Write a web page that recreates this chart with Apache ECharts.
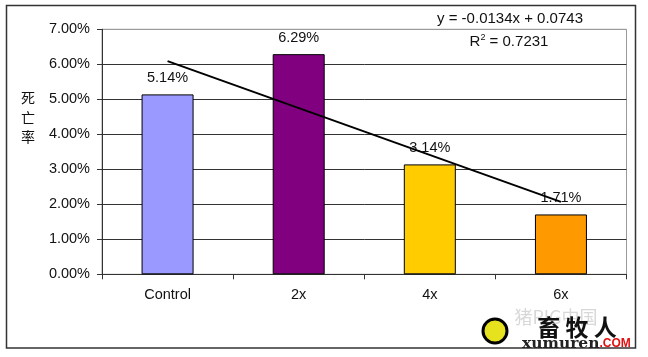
<!DOCTYPE html>
<html>
<head>
<meta charset="utf-8">
<script src="https://cdn.jsdelivr.net/npm/echarts@6/dist/echarts.min.js"></script>
<style>
html,body{margin:0;padding:0;background:#fff;}
#chart{width:648px;height:357px;}
</style>
</head>
<body>
<div id="chart"></div>
<script>
const categories = ['Control', '2x', '4x', '6x'];
const mortality = [0.0514, 0.0629, 0.0314, 0.0171];
const barColors = ['#9999FF', '#800080', '#FFCC00', '#FF9900'];
const trendValues = [0.0609, null, null, 0.0207];
const yTickMax = 0.07;
const yTickStep = 0.01;
const yAxisTitle = '死\n亡\n率';
const equationText = 'y = -0.0134x + 0.0743';
const r2Value = '0.7231';

const FONT = "'Liberation Sans', Arial, sans-serif";
const pct = v => (v * 100).toFixed(2) + '%';

const chart = echarts.init(document.getElementById('chart'), null, {renderer: 'canvas'});
chart.setOption({
  animation: false,
  backgroundColor: '#fff',
  grid: {
    left: 102, right: 21.5, top: 29.3, bottom: 82.7,
    show: true, borderColor: '#9a9a9a', borderWidth: 1, backgroundColor: 'transparent'
  },
  xAxis: {
    type: 'category',
    data: categories,
    boundaryGap: true,
    axisLine: {lineStyle: {color: '#333', width: 1}},
    axisTick: {show: true, length: 5, alignWithLabel: false, lineStyle: {color: '#333'}},
    axisLabel: {margin: 13, fontSize: 14.5, color: '#111', fontFamily: FONT}
  },
  yAxis: {
    type: 'value',
    min: 0, max: yTickMax, interval: yTickStep,
    axisLine: {show: true, lineStyle: {color: '#333', width: 1}},
    axisTick: {show: true, length: 5, lineStyle: {color: '#333'}},
    axisLabel: {margin: 12, fontSize: 14.5, color: '#111', fontFamily: FONT, formatter: pct},
    splitLine: {show: true, lineStyle: {color: ['#333','#333','#333','#333','#333','#333','#333','#9a9a9a'], width: 1}}
  },
  series: [
    {
      type: 'bar',
      data: mortality.map((v, i) => ({value: v, itemStyle: {color: barColors[i]}})),
      barWidth: 52,
      itemStyle: {borderColor: '#000', borderWidth: 1},
      label: {
        show: true, position: 'top', distance: 9,
        fontSize: 14.5, color: '#111', fontFamily: FONT,
        formatter: p => pct(p.value)
      },
      z: 2
    },
    {
      type: 'line',
      data: trendValues,
      connectNulls: true,
      symbol: 'none',
      lineStyle: {color: '#000', width: 2},
      z: 3
    }
  ],
  graphic: [
    {
      type: 'rect', silent: true,
      shape: {x: 6.5, y: 5.5, width: 629, height: 342.5},
      style: {fill: 'none', stroke: '#333', lineWidth: 1.5},
      z: 10
    },
    {
      type: 'text', silent: true, left: 21, top: 88,
      style: {text: yAxisTitle, fontSize: 14, lineHeight: 19.5, fill: '#111',
        fontFamily: "'Noto Sans CJK SC', sans-serif", align: 'center'}
    },
    {
      type: 'text', silent: true, x: 510, y: 19,
      style: {text: equationText, fontSize: 15, fill: '#111', fontFamily: FONT,
        align: 'center', verticalAlign: 'middle'}
    },
    {
      type: 'text', silent: true, x: 509, y: 42,
      style: {
        text: '{n|R}{s|2}{n| = ' + r2Value + '}',
        align: 'center', verticalAlign: 'middle',
        rich: {
          n: {fontSize: 15, fill: '#111', fontFamily: FONT},
          s: {fontSize: 9, fill: '#111', fontFamily: FONT, verticalAlign: 'top', padding: [0,0,8,0]}
        }
      }
    },
    {
      type: 'text', silent: true, x: 556, y: 317,
      style: {text: '猪PIG中国', fontSize: 18, fill: '#d8d8d8',
        fontFamily: "'Noto Sans CJK SC', sans-serif", align: 'center', verticalAlign: 'middle'},
      z: 11
    },
    {
      type: 'circle', silent: true,
      shape: {cx: 495, cy: 331, r: 12},
      style: {fill: '#e6e21e', stroke: '#000', lineWidth: 3},
      z: 11
    },
    {
      type: 'text', silent: true, x: 577, y: 327,
      style: {text: '畜 牧 人', fontSize: 23, fontWeight: 'bold', fill: '#111',
        fontFamily: "'Noto Sans CJK SC', sans-serif", align: 'center', verticalAlign: 'middle'},
      z: 12
    },
    {
      type: 'text', silent: true, x: 522, y: 344,
      style: {
        text: '{a|xumuren}{b|.COM}', verticalAlign: 'middle', align: 'left',
        rich: {
          a: {fontSize: 15.5, fontWeight: 'bold', fill: '#222', fontFamily: "'DejaVu Serif', serif"},
          b: {fontSize: 12, fontWeight: 'bold', fill: '#e01010', fontFamily: FONT}
        }
      },
      z: 12
    }
  ]
});
</script>
</body>
</html>
